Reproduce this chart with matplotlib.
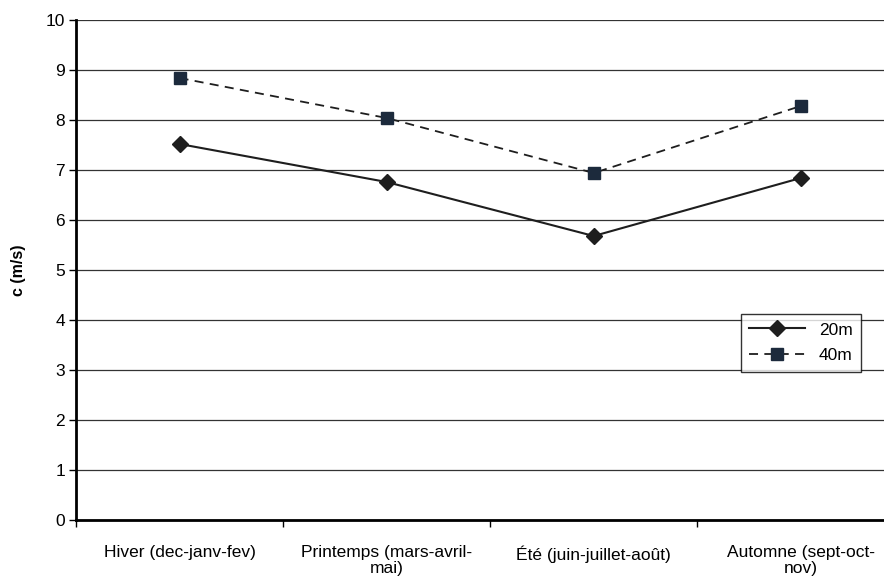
import matplotlib.pyplot as plt

plt.rcParams['font.family'] = ['Liberation Sans', 'DejaVu Sans']

saisons = ["Hiver (dec-janv-fev)", "Printemps (mars-avril-\nmai)",
           "Été (juin-juillet-août)", "Automne (sept-oct-\nnov)"]
c_20m = [7.52, 6.76, 5.68, 6.84]
c_40m = [8.84, 8.04, 6.94, 8.28]

fig = plt.figure(figsize=(8.84, 5.78), dpi=100)
# axes run past the right edge, as in the cropped original
ax = fig.add_axes([0.086, 0.1003, 0.937, 0.8651])

x = range(len(saisons))
ax.plot(x, c_20m, color='#1e1e1e', lw=1.5, marker='D', ms=8, label='20m')
ax.plot(x, c_40m, color='#1e1e1e', lw=1.3, ls=(0, (5, 3.5)), marker='s', ms=9,
        mfc='#1c2a3c', mec='#1c2a3c', label='40m')

ax.set_xlim(-0.5, 3.5)
ax.set_ylim(0, 10)
ax.set_yticks(range(0, 11))
ax.set_xticks(x)
ax.set_xticklabels(saisons, fontsize=12.5, linespacing=1.1)
ax.set_xticks([-0.5, 0.5, 1.5, 2.5, 3.5], minor=True)
ax.tick_params(axis='x', which='major', length=0, pad=18)
ax.tick_params(axis='x', which='minor', length=5, width=1, direction='out')
ax.tick_params(axis='y', length=5, width=1, labelsize=12.5, pad=3)

ax.grid(axis='y', color='#333333', lw=0.9)
ax.set_axisbelow(True)
for s in ['top', 'right']:
    ax.spines[s].set_visible(False)
ax.spines['left'].set_linewidth(2)
ax.spines['bottom'].set_linewidth(2)

ax.set_ylabel('c (m/s)', fontsize=11.5, fontweight='bold', labelpad=14)

leg = ax.legend(loc='upper left', bbox_to_anchor=(0.792, 0.43), fontsize=12.5,
                frameon=True, fancybox=False, handlelength=3.2,
                borderpad=0.5, labelspacing=0.6)
leg.get_frame().set_edgecolor('black')
leg.get_frame().set_linewidth(1)

plt.savefig('out.png', dpi=100)
